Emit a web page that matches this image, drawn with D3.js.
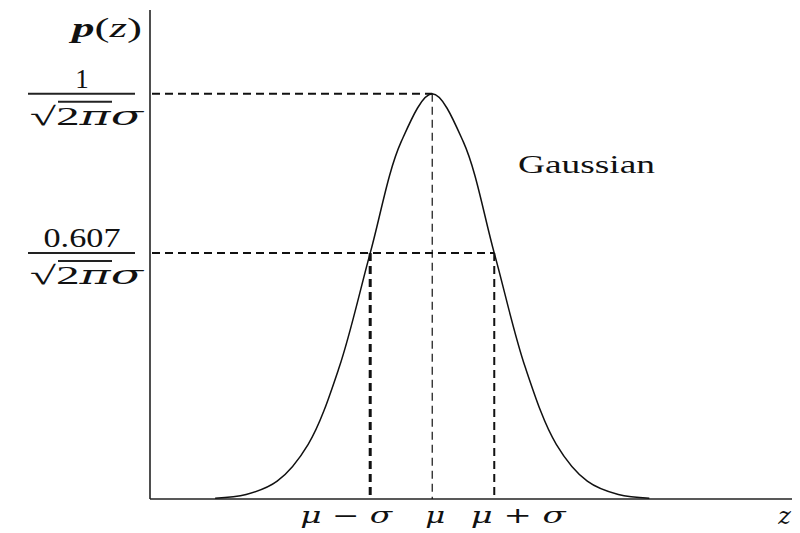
<!DOCTYPE html>
<html>
<head>
<meta charset="utf-8">
<script src="https://cdn.jsdelivr.net/npm/d3@7"></script>
<style>
  body { margin: 0; background: #fff; }
  text { font-family: "Liberation Serif", "DejaVu Serif", serif; fill: #111; }
  .math { font-family: "DejaVu Serif", "Liberation Serif", serif; font-style: italic; }
</style>
</head>
<body>
<div id="chart"></div>
<script>
'use strict';

// curve: z in units of sigma from mu, p relative to the peak
var curveZ = [-3.5, -3, -2.5, -2, -1.5, -1, -0.5, 0, 0.5, 1, 1.5, 2, 2.5, 3, 3.5];
var curveP = [0.002, 0.011, 0.044, 0.135, 0.325, 0.607, 0.882, 1, 0.882, 0.607, 0.325, 0.135, 0.044, 0.011, 0.002];

// marked levels and positions
var levels = [1, 0.607];
var levelNumerators = ['1', '0.607'];
var markZ = [-1, 0, 1];
var markLabels = ['μ − σ', 'μ', 'μ + σ'];

var width = 800, height = 533;

var x = d3.scaleLinear().domain([-4.55, 5.8]).range([150, 792]);
var y = d3.scaleLinear().domain([0, 1.207]).range([499, 10]);

var svg = d3.select('#chart').append('svg')
  .attr('width', width)
  .attr('height', height);

// axes
svg.append('line')
  .attr('x1', x(-4.55)).attr('x2', x(-4.55))
  .attr('y1', y(0)).attr('y2', y(1.207))
  .style('stroke', '#222').style('stroke-width', 1.6);
svg.append('line')
  .attr('x1', x(-4.55)).attr('x2', x(5.8))
  .attr('y1', y(0)).attr('y2', y(0))
  .style('stroke', '#222').style('stroke-width', 1.6);

// horizontal dashed guides: peak to mu, 0.607 to mu + sigma
var hEnd = [0, 1];
svg.selectAll('.hguide').data(levels)
  .enter().append('line')
    .attr('class', 'hguide')
    .attr('x1', x(-4.55) + 2)
    .attr('x2', function(d, i) { return x(hEnd[i]); })
    .attr('y1', function(d) { return y(d); })
    .attr('y2', function(d) { return y(d); })
    .style('stroke', '#111')
    .style('stroke-width', 2)
    .style('stroke-dasharray', '8,5');

// vertical dashed guides
var vTop = [0.607, 1, 0.607];
var vWidth = [3, 1.2, 2];
svg.selectAll('.vguide').data(markZ)
  .enter().append('line')
    .attr('class', 'vguide')
    .attr('x1', function(d) { return x(d); })
    .attr('x2', function(d) { return x(d); })
    .attr('y1', function(d, i) { return y(vTop[i]); })
    .attr('y2', y(0))
    .style('stroke', '#111')
    .style('stroke-width', function(d, i) { return vWidth[i]; })
    .style('stroke-dasharray', '8,5');

// the curve
var line = d3.line()
  .x(function(d) { return x(d[0]); })
  .y(function(d) { return y(d[1]); })
  .curve(d3.curveCatmullRom);

svg.append('path')
  .datum(d3.zip(curveZ, curveP))
  .attr('d', line)
  .style('fill', 'none')
  .style('stroke', '#111')
  .style('stroke-width', 1.5);

// y labels as fractions
var frac = svg.selectAll('.frac').data(levels)
  .enter().append('g')
    .attr('class', 'frac')
    .attr('transform', function(d) { return 'translate(0,' + y(d) + ')'; });

frac.append('line')
  .attr('x1', 28).attr('x2', 135)
  .attr('y1', 0).attr('y2', 0)
  .style('stroke', '#222').style('stroke-width', 2);

frac.append('text')
  .attr('x', 82)
  .attr('y', -6)
  .attr('text-anchor', 'middle')
  .style('font-size', '27px')
  .attr('textLength', function(d, i) { return i === 0 ? null : 77; })
  .attr('lengthAdjust', 'spacingAndGlyphs')
  .text(function(d, i) { return levelNumerators[i]; });

var den = frac.append('text')
  .attr('x', 30)
  .attr('y', 31)
  .attr('textLength', 113)
  .attr('lengthAdjust', 'spacingAndGlyphs')
  .style('font-size', '26px');
den.append('tspan').text('√');
den.append('tspan').text('2');
den.append('tspan').attr('class', 'math').text('πσ');

frac.append('line')
  .attr('x1', 58).attr('x2', 112)
  .attr('y1', 8).attr('y2', 8)
  .style('stroke', '#222').style('stroke-width', 2);

// x labels
var labelShift = [-24, 3, 24];
var labelLength = [92, 20, 95];
svg.selectAll('.xlab').data(markZ)
  .enter().append('text')
    .attr('class', 'xlab math')
    .attr('x', function(d, i) { return x(d) + labelShift[i]; })
    .attr('y', 523)
    .attr('text-anchor', 'middle')
    .attr('textLength', function(d, i) { return labelLength[i]; })
    .attr('lengthAdjust', 'spacingAndGlyphs')
    .style('font-size', '22px')
    .text(function(d, i) { return markLabels[i]; });

// axis titles
svg.append('text')
  .attr('class', 'math')
  .attr('x', 791).attr('y', 524)
  .attr('text-anchor', 'end')
  .style('font-size', '24px')
  .text('z');

var pz = svg.append('text')
  .attr('x', 72).attr('y', 37)
  .attr('textLength', 70)
  .attr('lengthAdjust', 'spacingAndGlyphs')
  .style('font-size', '27px');
pz.append('tspan').style('font-style', 'italic').style('font-weight', 'bold').text('p');
pz.append('tspan').text('(');
pz.append('tspan').style('font-style', 'italic').text('z');
pz.append('tspan').text(')');

svg.append('text')
  .attr('x', 518).attr('y', 173)
  .attr('textLength', 137)
  .attr('lengthAdjust', 'spacingAndGlyphs')
  .style('font-size', '26px')
  .text('Gaussian');
</script>
</body>
</html>
